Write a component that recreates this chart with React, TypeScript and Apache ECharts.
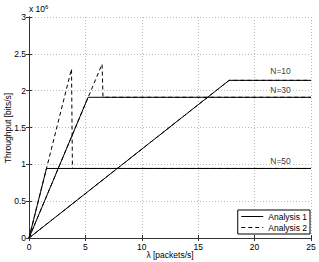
import React, { useEffect, useRef } from "react";
import * as echarts from "echarts";

const xTicks = [0, 5, 10, 15, 20, 25];
const yTicks = [0, 0.5, 1, 1.5, 2, 2.5, 3];

// Analysis 1 (solid): [lambda, throughput]
const a1N10: [number, number][] = [[0, 0], [17.74, 2.14e6], [25, 2.14e6]];
const a1N30: [number, number][] = [[0, 0], [5.24, 1.91e6], [25, 1.91e6]];
const a1N50: [number, number][] = [[0, 0], [1.55, 0.944e6], [25, 0.944e6]];

// Analysis 2 (dashed)
const a2N10: [number, number][] = [[0, 0], [17.74, 2.14e6], [25, 2.14e6]];
const a2N30: [number, number][] = [[0, 0], [6.48, 2.36e6], [6.56, 1.91e6], [25, 1.91e6]];
const a2N50: [number, number][] = [[0, 0], [3.77, 2.295e6], [3.85, 0.944e6], [25, 0.944e6]];

const curveLabels: [number, number, string][] = [
  [22.3, 2.27e6, "N=10"],
  [22.3, 2.01e6, "N=30"],
  [22.3, 1.04e6, "N=50"],
];

const xTitle = "λ [packets/s]";
const yTitle = "Throughput [bits/s]";

const FONT = "Liberation Sans";

export default function App() {
  const ref = useRef<HTMLDivElement>(null);
  useEffect(() => {
    if (!ref.current) return;
    const chart = echarts.init(ref.current, null, { renderer: "svg" });
    const axisLine = { show: true, lineStyle: { color: "#333", width: 1 } };
    const tick = { show: true, inside: true, length: 3, lineStyle: { color: "#333" } };
    const solid = (d: [number, number][]) => ({
      type: "line",
      name: "Analysis 1",
      data: d,
      symbol: "none",
      lineStyle: { color: "#000", width: 1 },
      itemStyle: { color: "#000" },
    });
    const dashed = (d: [number, number][]) => ({
      type: "line",
      name: "Analysis 2",
      data: d,
      symbol: "none",
      lineStyle: { color: "#000", width: 1, type: [4, 3] },
      itemStyle: { color: "#000" },
    });
    chart.setOption({
      animation: false,
      backgroundColor: "#fff",
      textStyle: { fontFamily: FONT },
      grid: { left: 29, right: 8, top: 17, bottom: 24, containLabel: false, outerBoundsMode: "none" },
      xAxis: [
        {
          type: "value",
          min: 0,
          max: 25,
          interval: 5,
          axisLine,
          axisTick: tick,
          axisLabel: { fontSize: 8.5, color: "#000", margin: 4, fontFamily: FONT },
          splitLine: { show: true, lineStyle: { color: "#bbb", type: [1, 2] } },
        },
        {
          type: "value",
          position: "top",
          min: 0,
          max: 25,
          interval: 5,
          axisLine,
          axisTick: tick,
          axisLabel: { show: false },
          splitLine: { show: false },
        },
      ],
      yAxis: [
        {
          type: "value",
          min: 0,
          max: 3e6,
          interval: 0.5e6,
          axisLine,
          axisTick: tick,
          axisLabel: {
            fontSize: 8.5,
            color: "#000",
            margin: 3,
            fontFamily: FONT,
            formatter: (v: number) => String(v / 1e6),
          },
          splitLine: { show: true, lineStyle: { color: "#bbb", type: [1, 2] } },
        },
        {
          type: "value",
          position: "right",
          min: 0,
          max: 3e6,
          interval: 0.5e6,
          axisLine,
          axisTick: tick,
          axisLabel: { show: false },
          splitLine: { show: false },
        },
      ],
      legend: {
        right: 9,
        bottom: 28,
        orient: "vertical",
        data: ["Analysis 1", "Analysis 2"],
        itemWidth: 22,
        itemHeight: 6,
        itemGap: 2,
        itemStyle: { opacity: 0 },
        lineStyle: { width: 1 },
        padding: [2, 3, 2, 3],
        borderColor: "#000",
        borderWidth: 1,
        backgroundColor: "#fff",
        borderRadius: 0,
        textStyle: { fontSize: 8.5, color: "#000", fontFamily: FONT },
      },
      graphic: [
        {
          type: "text",
          left: 29,
          top: 4,
          style: {
            text: "x 10{s|6}",
            fontSize: 8.5,
            fontFamily: FONT,
            fill: "#000",
            rich: { s: { fontSize: 6, fontFamily: FONT, verticalAlign: "top" } },
          },
        },
        {
          type: "text",
          x: 8,
          y: 128,
          rotation: Math.PI / 2,
          style: {
            text: yTitle,
            fontSize: 8.5,
            fontFamily: FONT,
            fill: "#000",
            align: "center",
            verticalAlign: "middle",
          },
        },
        {
          type: "text",
          x: 170,
          y: 255,
          style: {
            text: xTitle,
            fontSize: 8.5,
            fontFamily: FONT,
            fill: "#000",
            align: "center",
            verticalAlign: "middle",
          },
        },
      ],
      series: [
        solid(a1N10),
        solid(a1N30),
        solid(a1N50),
        dashed(a2N10),
        dashed(a2N30),
        dashed(a2N50),
        {
          type: "scatter",
          name: "labels",
          data: curveLabels,
          symbolSize: 0,
          silent: true,
          label: {
            show: true,
            position: "inside",
            formatter: (p: any) => p.data[2],
            fontSize: 8.5,
            fontFamily: FONT,
            color: "#000",
          },
        },
      ],
    });
    return () => chart.dispose();
  }, []);
  return (
    <div
      ref={ref}
      style={{ position: "fixed", left: 0, top: 0, width: 319, height: 262 }}
    />
  );
}
